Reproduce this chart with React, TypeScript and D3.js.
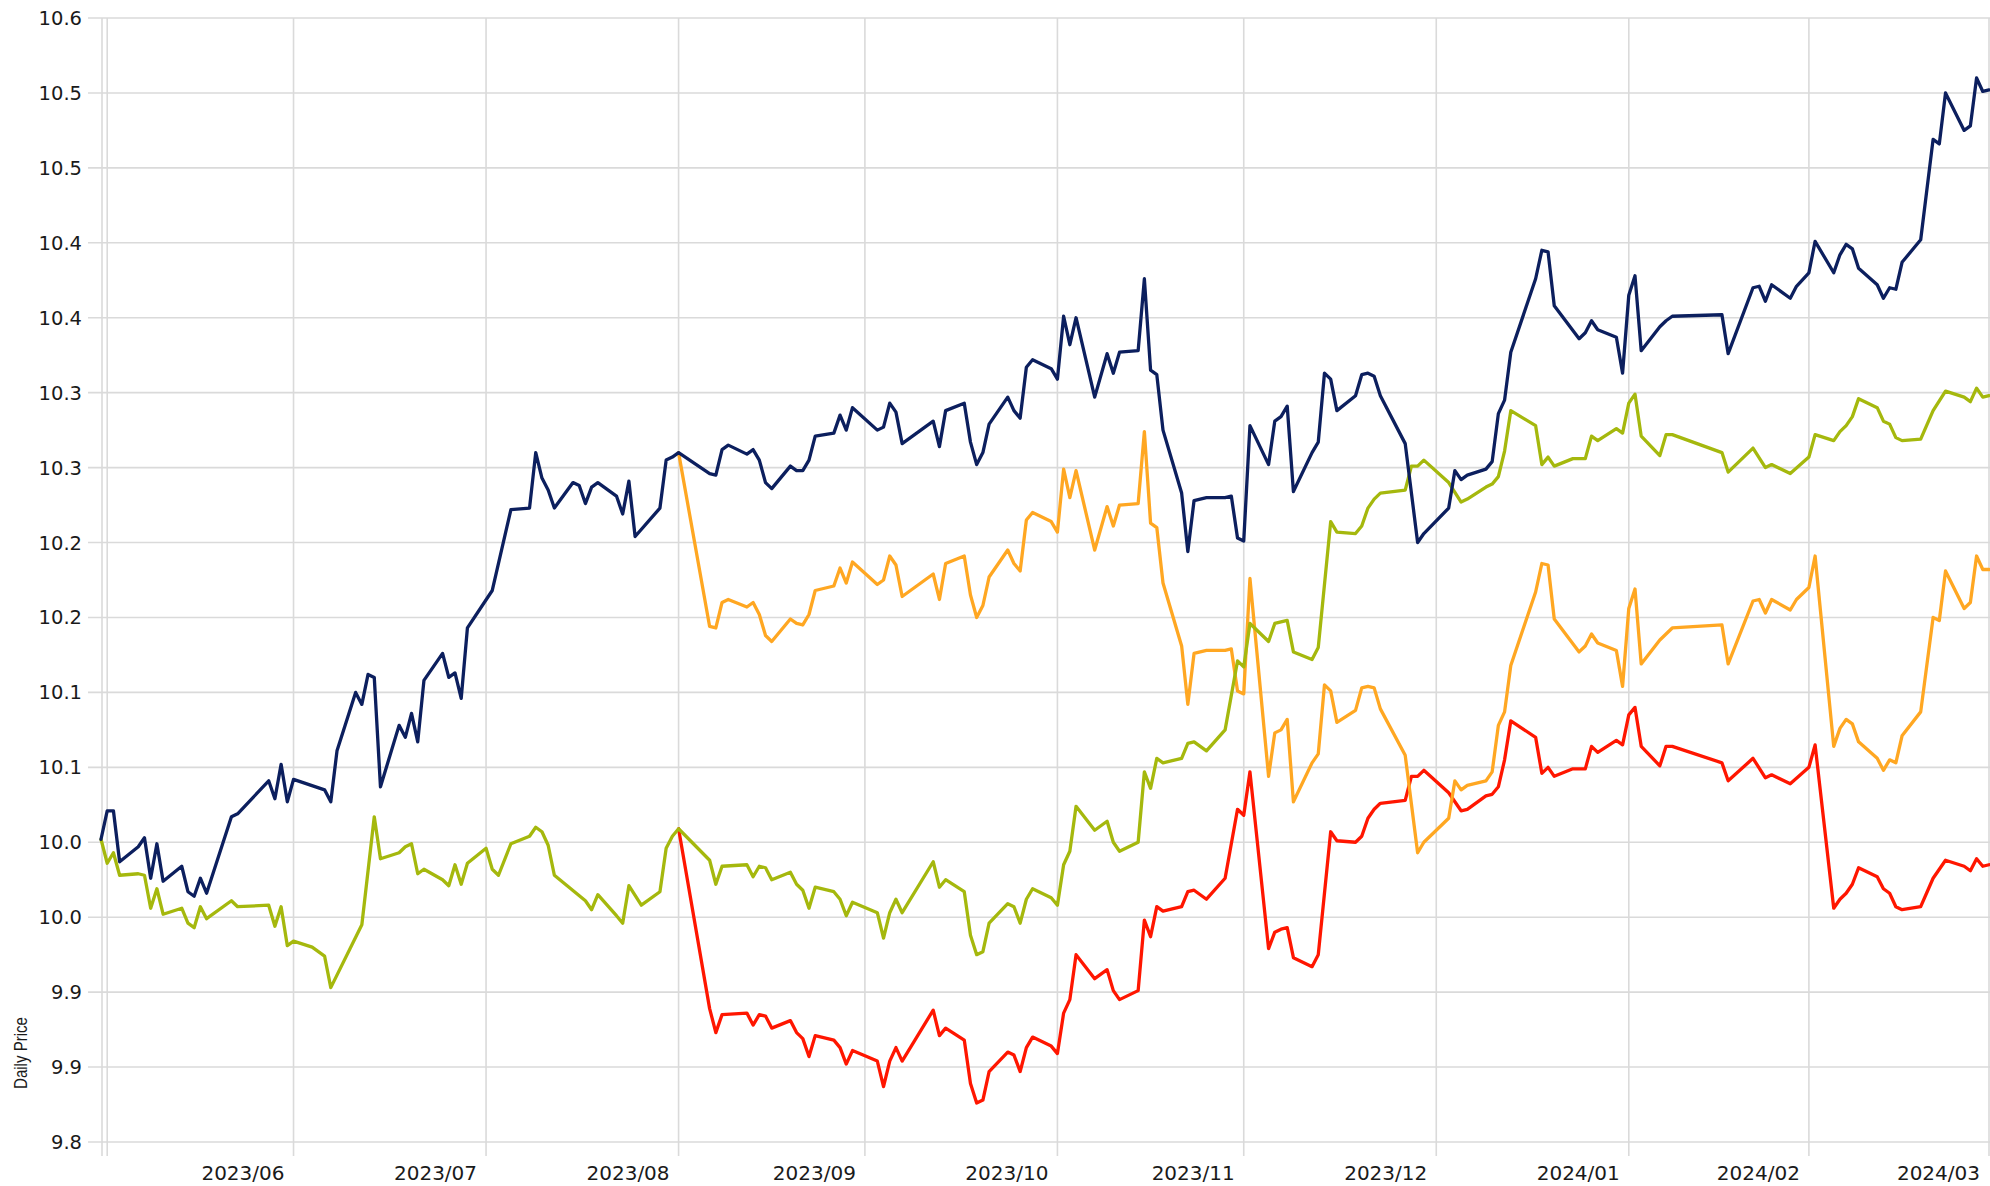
import React from 'react';
import * as d3 from 'd3';

// x values are days since 2023-05-02 (UTC), y values are daily prices
const BASE = Date.UTC(2023, 4, 2);
const LAST_DAY = 304;

const navySeries: [number, number][] = [
  [0, 10.052], [1, 10.071], [2, 10.071], [3, 10.037], [6, 10.047], [7, 10.053], [8, 10.026], [9, 10.049], [10, 10.024],
  [13, 10.034], [14, 10.017], [15, 10.014], [16, 10.026], [17, 10.016], [21, 10.067], [22, 10.069],
  [27, 10.091], [28, 10.079], [29, 10.102], [30, 10.077], [31, 10.092], [36, 10.085], [37, 10.077], [38, 10.111],
  [41, 10.15], [42, 10.142], [43, 10.162], [44, 10.16], [45, 10.087], [48, 10.128], [49, 10.12], [50, 10.136],
  [51, 10.117], [52, 10.158], [55, 10.176], [56, 10.16], [57, 10.163], [58, 10.146], [59, 10.193], [63, 10.218],
  [66, 10.272], [69, 10.273], [70, 10.31], [71, 10.293], [72, 10.285], [73, 10.273], [76, 10.29], [77, 10.288],
  [78, 10.276], [79, 10.287], [80, 10.29], [83, 10.281], [84, 10.269], [85, 10.291], [86, 10.254], [90, 10.273],
  [91, 10.305], [92, 10.307], [93, 10.31], [98, 10.296], [99, 10.295], [100, 10.312], [101, 10.315], [104, 10.309],
  [105, 10.312], [106, 10.305], [107, 10.29], [108, 10.286], [111, 10.301], [112, 10.298], [113, 10.298], [114, 10.305],
  [115, 10.321], [118, 10.323], [119, 10.335], [120, 10.325], [121, 10.34], [125, 10.325], [126, 10.327], [127, 10.343],
  [128, 10.337], [129, 10.316], [134, 10.331], [135, 10.314], [136, 10.338], [139, 10.343], [140, 10.317], [141, 10.302],
  [142, 10.31], [143, 10.329], [146, 10.347], [147, 10.338], [148, 10.333], [149, 10.367], [150, 10.372], [153, 10.366],
  [154, 10.359], [155, 10.401], [156, 10.382], [157, 10.4], [160, 10.347], [162, 10.376], [163, 10.363], [164, 10.377],
  [167, 10.378], [168, 10.426], [169, 10.365], [170, 10.362], [171, 10.325], [174, 10.283], [175, 10.244], [176, 10.278],
  [178, 10.28], [181, 10.28], [182, 10.281], [183, 10.253], [184, 10.251], [185, 10.328], [188, 10.302], [189, 10.331],
  [190, 10.334], [191, 10.341], [192, 10.284], [195, 10.31], [196, 10.317], [197, 10.363], [198, 10.359], [199, 10.338],
  [202, 10.348], [203, 10.362], [204, 10.363], [205, 10.361], [206, 10.348], [210, 10.316], [212, 10.25], [213, 10.256],
  [217, 10.273], [218, 10.298], [219, 10.292], [220, 10.295], [223, 10.299], [224, 10.304], [225, 10.336], [226, 10.345],
  [227, 10.377], [231, 10.426], [232, 10.445], [233, 10.444], [234, 10.408], [238, 10.386], [239, 10.39], [240, 10.398],
  [241, 10.392], [244, 10.387], [245, 10.363], [246, 10.415], [247, 10.428], [248, 10.378], [251, 10.394], [252, 10.398],
  [253, 10.401], [261, 10.402], [262, 10.376], [266, 10.42], [267, 10.421], [268, 10.411], [269, 10.422], [272, 10.413],
  [273, 10.421], [275, 10.43], [276, 10.451], [279, 10.43], [280, 10.442], [281, 10.449], [282, 10.446], [283, 10.433],
  [286, 10.422], [287, 10.413], [288, 10.42], [289, 10.419], [290, 10.437], [293, 10.452], [295, 10.519], [296, 10.516],
  [297, 10.55], [300, 10.525], [301, 10.528], [302, 10.56], [303, 10.551], [304, 10.552],
];

const greenSeries: [number, number][] = [
  [0, 10.052], [1, 10.036], [2, 10.043], [3, 10.028], [6, 10.029], [7, 10.028], [8, 10.006], [9, 10.019], [10, 10.002],
  [13, 10.006], [14, 9.996], [15, 9.993], [16, 10.007], [17, 9.999], [21, 10.011], [22, 10.007], [27, 10.008],
  [28, 9.994], [29, 10.007], [30, 9.981], [31, 9.984], [34, 9.98], [36, 9.974], [37, 9.953], [42, 9.995], [44, 10.067],
  [45, 10.039], [48, 10.043], [49, 10.047], [50, 10.049], [51, 10.029], [52, 10.032], [55, 10.025], [56, 10.021],
  [57, 10.035], [58, 10.022], [59, 10.036], [62, 10.046], [63, 10.032], [64, 10.028], [66, 10.049], [69, 10.054],
  [70, 10.06], [71, 10.057], [72, 10.048], [73, 10.028], [78, 10.011], [79, 10.005], [80, 10.015], [83, 10.001],
  [84, 9.996], [85, 10.021], [87, 10.008], [90, 10.017], [91, 10.046], [92, 10.054], [93, 10.059], [98, 10.038],
  [99, 10.022], [100, 10.034], [104, 10.035], [105, 10.027], [106, 10.034], [107, 10.033], [108, 10.025], [111, 10.03],
  [112, 10.022], [113, 10.018], [114, 10.006], [115, 10.02], [118, 10.017], [119, 10.012], [120, 10.001], [121, 10.01],
  [125, 10.003], [126, 9.986], [127, 10.003], [128, 10.012], [129, 10.003], [134, 10.037], [135, 10.02], [136, 10.025],
  [139, 10.017], [140, 9.988], [141, 9.975], [142, 9.977], [143, 9.996], [146, 10.009], [147, 10.007], [148, 9.996],
  [149, 10.012], [150, 10.019], [153, 10.013], [154, 10.008], [155, 10.035], [156, 10.044], [157, 10.074], [160, 10.058],
  [162, 10.064], [163, 10.05], [164, 10.044], [167, 10.05], [168, 10.097], [169, 10.086], [170, 10.106], [171, 10.103],
  [174, 10.106], [175, 10.116], [176, 10.117], [178, 10.111], [181, 10.125], [183, 10.171], [184, 10.167], [185, 10.196],
  [188, 10.184], [189, 10.196], [190, 10.197], [191, 10.198], [192, 10.177], [195, 10.172], [196, 10.18], [198, 10.264],
  [199, 10.257], [202, 10.256], [203, 10.261], [204, 10.273], [205, 10.279], [206, 10.283], [210, 10.285], [211, 10.301],
  [212, 10.301], [213, 10.305], [217, 10.29], [219, 10.277], [220, 10.279], [223, 10.287], [224, 10.289], [225, 10.294],
  [226, 10.311], [227, 10.338], [231, 10.328], [232, 10.302], [233, 10.307], [234, 10.301], [237, 10.306], [239, 10.306],
  [240, 10.321], [241, 10.318], [244, 10.326], [245, 10.323], [246, 10.343], [247, 10.349], [248, 10.321], [251, 10.308],
  [252, 10.322], [253, 10.322], [261, 10.31], [262, 10.297], [266, 10.313], [268, 10.3], [269, 10.302], [272, 10.296],
  [275, 10.307], [276, 10.322], [279, 10.318], [280, 10.324], [281, 10.328], [282, 10.334], [283, 10.346], [286, 10.34],
  [287, 10.331], [288, 10.329], [289, 10.32], [290, 10.318], [293, 10.319], [295, 10.338], [297, 10.351], [300, 10.347],
  [301, 10.344], [302, 10.353], [303, 10.347], [304, 10.348],
];

const orangeSeries: [number, number][] = [
  [93, 10.31], [98, 10.194], [99, 10.193], [100, 10.21], [101, 10.212], [104, 10.207], [105, 10.21], [106, 10.202],
  [107, 10.188], [108, 10.184], [111, 10.199], [112, 10.196], [113, 10.195], [114, 10.202], [115, 10.218], [118, 10.221],
  [119, 10.233], [120, 10.223], [121, 10.237], [125, 10.222], [126, 10.225], [127, 10.241], [128, 10.235], [129, 10.214],
  [134, 10.229], [135, 10.212], [136, 10.236], [139, 10.241], [140, 10.215], [141, 10.2], [142, 10.208], [143, 10.227],
  [146, 10.245], [147, 10.236], [148, 10.231], [149, 10.265], [150, 10.27], [153, 10.264], [154, 10.257], [155, 10.299],
  [156, 10.28], [157, 10.298], [160, 10.245], [162, 10.274], [163, 10.261], [164, 10.275], [167, 10.276], [168, 10.324],
  [169, 10.263], [170, 10.26], [171, 10.223], [174, 10.181], [175, 10.142], [176, 10.176], [178, 10.178], [181, 10.178],
  [182, 10.179], [183, 10.151], [184, 10.149], [185, 10.226], [188, 10.094], [189, 10.123], [190, 10.125], [191, 10.132],
  [192, 10.077], [195, 10.103], [196, 10.109], [197, 10.155], [198, 10.151], [199, 10.13], [202, 10.138], [203, 10.153],
  [204, 10.154], [205, 10.153], [206, 10.139], [210, 10.108], [212, 10.043], [213, 10.05], [217, 10.066], [218, 10.091],
  [219, 10.085], [220, 10.088], [223, 10.091], [224, 10.097], [225, 10.128], [226, 10.137], [227, 10.168], [231, 10.217],
  [232, 10.236], [233, 10.235], [234, 10.199], [238, 10.177], [239, 10.181], [240, 10.189], [241, 10.183], [244, 10.178],
  [245, 10.154], [246, 10.206], [247, 10.219], [248, 10.169], [251, 10.185], [252, 10.189], [253, 10.193], [261, 10.195],
  [262, 10.169], [266, 10.211], [267, 10.212], [268, 10.203], [269, 10.212], [272, 10.205], [273, 10.212], [275, 10.22],
  [276, 10.241], [279, 10.114], [280, 10.126], [281, 10.132], [282, 10.129], [283, 10.117], [286, 10.106], [287, 10.098],
  [288, 10.105], [289, 10.103], [290, 10.121], [293, 10.137], [295, 10.2], [296, 10.198], [297, 10.231], [300, 10.206],
  [301, 10.21], [302, 10.241], [303, 10.232], [304, 10.232],
];

const redSeries: [number, number][] = [
  [93, 10.059], [98, 9.939], [99, 9.923], [100, 9.935], [104, 9.936], [105, 9.928], [106, 9.935], [107, 9.934],
  [108, 9.926], [111, 9.931], [112, 9.923], [113, 9.919], [114, 9.907], [115, 9.921], [118, 9.918], [119, 9.913],
  [120, 9.902], [121, 9.911], [125, 9.904], [126, 9.887], [127, 9.904], [128, 9.913], [129, 9.904], [134, 9.938],
  [135, 9.921], [136, 9.926], [139, 9.918], [140, 9.889], [141, 9.876], [142, 9.878], [143, 9.897], [146, 9.91],
  [147, 9.908], [148, 9.897], [149, 9.913], [150, 9.92], [153, 9.914], [154, 9.909], [155, 9.936], [156, 9.945],
  [157, 9.975], [160, 9.959], [162, 9.965], [163, 9.951], [164, 9.945], [167, 9.951], [168, 9.998], [169, 9.987],
  [170, 10.007], [171, 10.004], [174, 10.007], [175, 10.017], [176, 10.018], [178, 10.012], [181, 10.026], [183, 10.072],
  [184, 10.068], [185, 10.097], [188, 9.979], [189, 9.99], [190, 9.992], [191, 9.993], [192, 9.973], [195, 9.967],
  [196, 9.975], [198, 10.057], [199, 10.051], [202, 10.05], [203, 10.054], [204, 10.066], [205, 10.072], [206, 10.076],
  [210, 10.078], [211, 10.094], [212, 10.094], [213, 10.098], [217, 10.083], [219, 10.071], [220, 10.072], [223, 10.081],
  [224, 10.082], [225, 10.087], [226, 10.105], [227, 10.131], [231, 10.12], [232, 10.096], [233, 10.1], [234, 10.094],
  [237, 10.099], [239, 10.099], [240, 10.114], [241, 10.11], [244, 10.118], [245, 10.115], [246, 10.135], [247, 10.14],
  [248, 10.114], [251, 10.101], [252, 10.114], [253, 10.114], [261, 10.103], [262, 10.091], [266, 10.106], [268, 10.093],
  [269, 10.095], [272, 10.089], [275, 10.1], [276, 10.115], [279, 10.006], [280, 10.012], [281, 10.016], [282, 10.022],
  [283, 10.033], [286, 10.027], [287, 10.019], [288, 10.016], [289, 10.007], [290, 10.005], [293, 10.007], [295, 10.026],
  [297, 10.038], [300, 10.034], [301, 10.031], [302, 10.039], [303, 10.034], [304, 10.035],
];

const xTickDates = [
  '2023-05-03', '2023-06-02', '2023-07-03', '2023-08-03', '2023-09-02', '2023-10-03',
  '2023-11-02', '2023-12-03', '2024-01-03', '2024-02-01', '2024-03-01',
];
const xTickLabels = ['', '2023/06', '2023/07', '2023/08', '2023/09', '2023/10', '2023/11', '2023/12', '2024/01', '2024/02', '2024/03'];

const yTickValues = [9.85, 9.9, 9.95, 10.0, 10.05, 10.1, 10.15, 10.2, 10.25, 10.3, 10.35, 10.4, 10.45, 10.5, 10.55, 10.6];
const yTickLabels = ['9.8', '9.9', '9.9', '10.0', '10.0', '10.1', '10.1', '10.2', '10.2', '10.3', '10.3', '10.4', '10.4', '10.5', '10.5', '10.6'];

const seriesList = [
  { name: 'red', color: '#ff1600', data: redSeries },
  { name: 'orange', color: '#ffa722', data: orangeSeries },
  { name: 'green', color: '#a5b80d', data: greenSeries },
  { name: 'navy', color: '#0c1f5e', data: navySeries },
];

const W = 1990;
const H = 1186;
const left = 101;
const right = 1989;
const top = 18;
const bottom = 1142;

const dayToDate = (d: number) => new Date(BASE + d * 864e5);

export default function App() {
  const x = d3.scaleUtc().domain([dayToDate(0), dayToDate(LAST_DAY)]).range([left, right]);
  const y = d3.scaleLinear().domain([9.85, 10.6]).range([bottom, top]);

  const line = d3.line<[number, number]>()
    .x(d => x(dayToDate(d[0])))
    .y(d => y(d[1]));

  const font = '"DejaVu Sans", Verdana, sans-serif';

  return (
    <svg width={W} height={H} style={{ position: 'absolute', left: 0, top: 0, background: '#fff' }}>
      {/* horizontal grid + ticks */}
      {yTickValues.map((v, i) => (
        <g key={'y' + i}>
          <line x1={88} x2={W} y1={y(v)} y2={y(v)} stroke="#dadada" strokeWidth={1.6} />
          <text x={82} y={y(v)} dy="0.36em" textAnchor="end" fontFamily={font} fontSize={19.5} fill="#1a1a1a">
            {yTickLabels[i]}
          </text>
        </g>
      ))}
      {/* y axis line */}
      <line x1={left + 1} x2={left + 1} y1={top} y2={bottom + 14} stroke="#dadada" strokeWidth={1.6} />
      {/* vertical grid + month labels */}
      {xTickDates.map((s, i) => {
        const px = x(new Date(s));
        return (
          <g key={'x' + i}>
            <line x1={px} x2={px} y1={top} y2={bottom + 14} stroke="#dadada" strokeWidth={1.6} />
            {xTickLabels[i] && (
              <text x={px - 9} y={1180} textAnchor="end" fontFamily={font} fontSize={20} fill="#1a1a1a">
                {xTickLabels[i]}
              </text>
            )}
          </g>
        );
      })}
      <text
        transform={`translate(27, ${1053}) rotate(-90)`}
        textAnchor="middle"
        fontFamily='"Liberation Sans", Arial, sans-serif'
        fontSize={18}
        textLength={72}
        lengthAdjust="spacingAndGlyphs"
        fill="#1a1a1a"
      >
        Daily Price
      </text>
      {seriesList.map(s => (
        <path
          key={s.name}
          d={line(s.data) || ''}
          fill="none"
          stroke={s.color}
          strokeWidth={3.3}
          strokeLinejoin="round"
          strokeLinecap="round"
        />
      ))}
    </svg>
  );
}
